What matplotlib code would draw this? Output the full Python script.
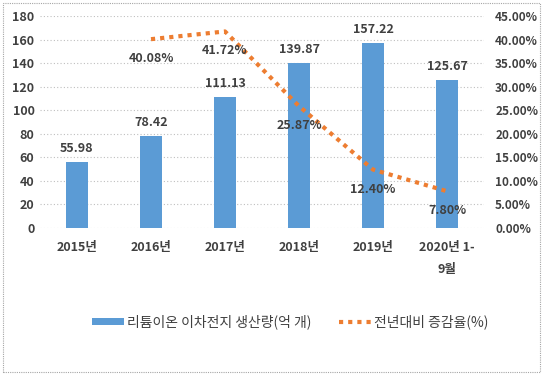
import matplotlib
matplotlib.use("Agg")
import matplotlib.pyplot as plt
from matplotlib.patches import Rectangle
from matplotlib.ticker import FuncFormatter, MultipleLocator

plt.rcParams['font.family'] = ['Noto Sans CJK KR', 'DejaVu Sans']

categories = ['2015년', '2016년', '2017년', '2018년', '2019년', '2020년 1-\n9월']
production = [55.98, 78.42, 111.13, 139.87, 157.22, 125.67]
growth_cats = categories[1:]
growth = [40.08, 41.72, 25.87, 12.40, 7.80]

bar_label = '리튬이온 이차전지 생산량(억 개)'
line_label = '전년대비 증감율(%)'

blue = '#5B9BD5'
orange = '#ED7D31'
txt = '#404040'

fig = plt.figure(figsize=(5.44, 3.75), dpi=100)
ax = fig.add_axes([40/544, 1-228/375, (484-40)/544, (228-16)/375])
x = list(range(len(categories)))
bars = ax.bar(x, production, width=0.31, color=blue, label=bar_label, zorder=2)
ax.set_xlim(-0.5, len(categories)-0.5)
ax.set_ylim(0, 180)
ax.yaxis.set_major_locator(MultipleLocator(20))
ax.grid(axis='y', linestyle=(0, (1, 2)), color='#BFBFBF', linewidth=0.8, zorder=0)
ax.set_axisbelow(True)
for s in ax.spines.values():
    s.set_visible(False)
ax.tick_params(length=0)
ax.set_xticks(x)
ax.set_xticklabels(categories, fontsize=9, fontweight='bold', color=txt, linespacing=1.9)
ax.tick_params(axis='x', pad=9)
for lab in ax.get_yticklabels():
    lab.set_fontsize(9); lab.set_fontweight('bold'); lab.set_color(txt)
ax.tick_params(axis='y', labelsize=9, labelcolor=txt, pad=4)
for xi, v in zip(x, production):
    ax.annotate(f'{v:.2f}', (xi, v), xytext=(0, 5), textcoords='offset points',
                ha='center', va='bottom', fontsize=9, fontweight='bold', color=txt)

ax2 = ax.twinx()
ax2.set_ylim(0, 45)
ax2.yaxis.set_major_locator(MultipleLocator(5))
ax2.yaxis.set_major_formatter(FuncFormatter(lambda v, p: f'{v:.2f}%'))
for s in ax2.spines.values():
    s.set_visible(False)
ax2.tick_params(length=0, labelsize=8.5, labelcolor=txt, pad=8)
for lab in ax2.get_yticklabels():
    lab.set_fontweight('bold')
gx = [categories.index(c) for c in growth_cats]
ax2.plot(gx, growth, color=orange, linewidth=3, linestyle=(0, (1, 1.2)), label=line_label, zorder=3)
for xi, v in zip(gx, growth):
    ax2.annotate(f'{v:.2f}%', (xi, v), xytext=(0, -14), textcoords='offset points',
                 ha='center', va='center', fontsize=9, fontweight='bold', color=txt)

h1, l1 = ax.get_legend_handles_labels()
h2, l2 = ax2.get_legend_handles_labels()
fig.legend(h1 + h2, l1 + l2, loc='center', bbox_to_anchor=(0.533, 1-322/375), ncol=2,
           frameon=False, fontsize=10, handlelength=2.3, handleheight=0.5,
           columnspacing=2.0, handletextpad=0.2, labelcolor=txt)

fig.patches.append(Rectangle((3/544, 3/375), 537/544, 369/375, transform=fig.transFigure,
                             fill=False, edgecolor='#A6A6A6', linestyle=(0, (1, 1)), linewidth=0.8))
fig.savefig('out.png', dpi=100)
